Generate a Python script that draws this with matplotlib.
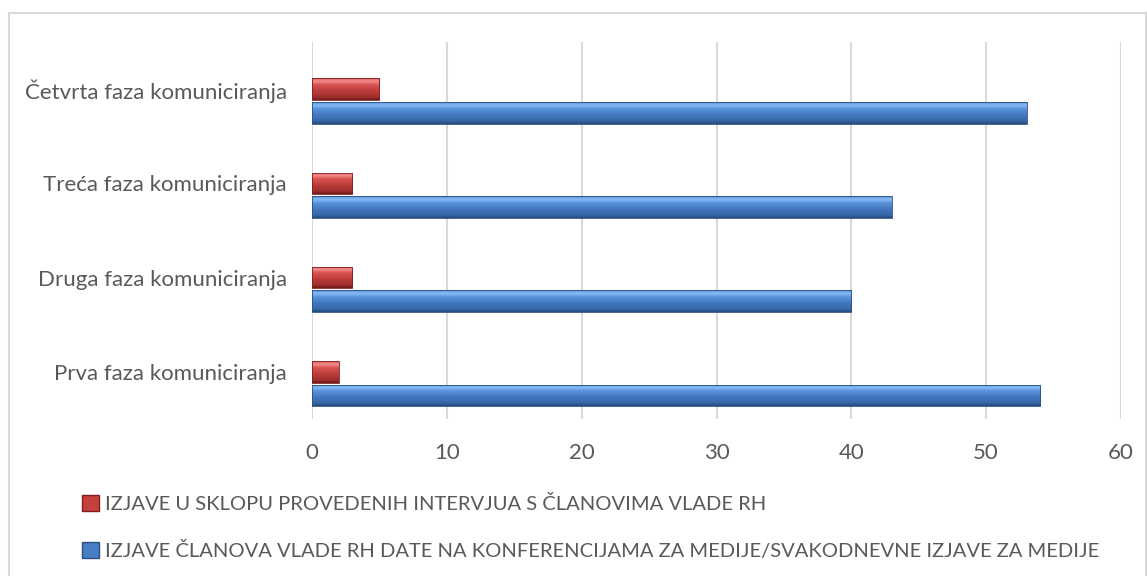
import matplotlib
matplotlib.use("Agg")
import matplotlib.pyplot as plt
from matplotlib.patches import Rectangle, Patch
from matplotlib.colors import LinearSegmentedColormap
import numpy as np

categories = ["Prva faza komuniciranja", "Druga faza komuniciranja",
              "Treća faza komuniciranja", "Četvrta faza komuniciranja"]
konferencije = [54, 40, 43, 53]
intervjui = [2, 3, 3, 5]
series_labels = ["IZJAVE U SKLOPU PROVEDENIH INTERVJUA S ČLANOVIMA VLADE RH",
                 "IZJAVE ČLANOVA VLADE RH DATE NA KONFERENCIJAMA ZA MEDIJE/SVAKODNEVNE IZJAVE ZA MEDIJE"]
xticks = [0, 10, 20, 30, 40, 50, 60]

FONT = "Lato"
TXT = "#595959"

fig = plt.figure(figsize=(11.47, 5.76), dpi=100)
ax = fig.add_axes([312/1147, 1-419/576, (1121-312)/1147, (419-42)/576])

y = np.arange(len(categories))
h = 0.23

blue_cmap = LinearSegmentedColormap.from_list(
    "b", [(0, "#24487a"), (0.12, "#3566a6"), (0.45, "#457bc2"), (0.7, "#5a94dc"), (0.85, "#86bbf5"), (1, "#5d94d8")])
red_cmap = LinearSegmentedColormap.from_list(
    "r", [(0, "#6e1a19"), (0.12, "#9e2e2c"), (0.45, "#c03f3c"), (0.7, "#d85452"), (0.85, "#f58a88"), (1, "#d86563")])

grad = np.linspace(0, 1, 64).reshape(-1, 1)

def gradient_bars(ax, ypos, vals, cmap, edge):
    bars = ax.barh(ypos, vals, height=h, color="none", edgecolor=edge, linewidth=0.6, zorder=5)
    for p in bars.patches:
        x0, y0 = p.get_x(), p.get_y()
        w, hh = p.get_width(), p.get_height()
        im = ax.imshow(grad, extent=[x0, x0 + w, y0, y0 + hh], origin="lower",
                       aspect="auto", cmap=cmap, interpolation="bilinear", zorder=4)
        im.set_clip_path(p)
    return bars

gradient_bars(ax, y - 0.25, konferencije, blue_cmap, "#2a4f80")
gradient_bars(ax, y + 0.0, intervjui, red_cmap, "#7d1f1d")

ax.set_xlim(0, 60)
ax.set_ylim(-0.5, len(categories) - 0.5)
ax.set_aspect("auto")
ax.set_xticks(xticks)
ax.set_xticklabels([str(t) for t in xticks], fontsize=16, color=TXT, family=FONT)
ax.set_yticks(y)
ax.set_yticklabels(categories, fontsize=16, color=TXT, family=FONT)
ax.tick_params(axis="both", length=0)
ax.tick_params(axis="x", pad=17)
ax.tick_params(axis="y", pad=18)
ax.grid(axis="x", color="#d9d9d9", linewidth=1.5, zorder=0)
ax.set_axisbelow(True)
for s in ax.spines.values():
    s.set_visible(False)

handles = [Patch(facecolor="#c4413e", edgecolor="#7d1f1d"),
           Patch(facecolor="#477ec4", edgecolor="#2a4f80")]
fig.legend(handles, series_labels, loc="upper left",
           bbox_to_anchor=(82/1147, 1-495/576), frameon=False,
           prop={"family": FONT, "size": 14.5}, labelcolor=TXT,
           handlelength=0.85, handleheight=0.85, handletextpad=0.3,
           labelspacing=1.4, borderaxespad=0, borderpad=0)

fig.patches.append(Rectangle((9/1147, -0.01), (1146-9)/1147, 1-13/576+0.01,
                             transform=fig.transFigure, fill=False,
                             edgecolor="#d9d9d9", linewidth=1.5))

fig.savefig("out.png", dpi=100)
